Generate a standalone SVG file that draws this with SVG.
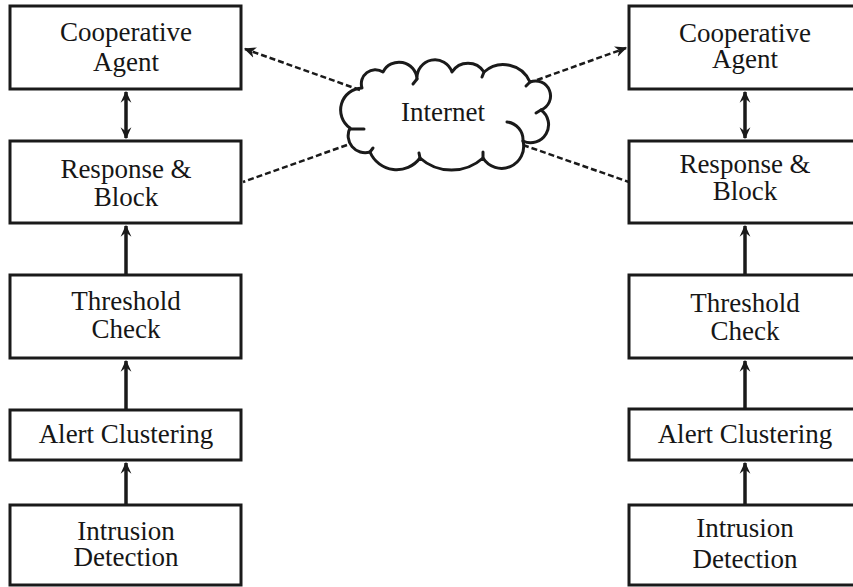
<svg xmlns="http://www.w3.org/2000/svg" width="853" height="587" viewBox="0 0 853 587">
  <style>
    .box { fill: #fff; stroke: #1a1a1a; stroke-width: 3; }
    .lbl { font-family: "Liberation Serif", "Times New Roman", serif; font-size: 27px; fill: #161616; text-anchor: middle; }
    .flow { stroke: #1a1a1a; stroke-width: 3.5; fill: none; }
    .net { stroke: #1a1a1a; stroke-width: 2.5; fill: none; stroke-dasharray: 6 3; }
    .cloud { fill: #fff; stroke: #1a1a1a; stroke-width: 3; stroke-linejoin: round; }
    .curl { fill: none; stroke: #1a1a1a; stroke-width: 3; stroke-linecap: round; }
  </style>
  <defs>
    <marker id="head" viewBox="0 0 10 10" refX="9" refY="5" markerWidth="12" markerHeight="12" markerUnits="userSpaceOnUse" orient="auto-start-reverse">
      <path d="M0,0.5 L10,5 L0,9.5 L3.5,5 z" fill="#1a1a1a"/>
    </marker>
    <marker id="open" viewBox="0 0 10 10" refX="9" refY="5" markerWidth="12" markerHeight="12" markerUnits="userSpaceOnUse" orient="auto">
      <path d="M0,0.5 L10,5 L0,9.5 L3,5 z" fill="#1a1a1a"/>
    </marker>
  </defs>

  <rect width="853" height="587" fill="#fff"/>

  <!-- left agent stack -->
  <g id="left-cooperative-agent">
    <rect class="box" x="10" y="6" width="231" height="83"/>
    <text class="lbl" x="126" y="41">Cooperative</text>
    <text class="lbl" x="126" y="71">Agent</text>
  </g>
  <g id="left-response-block">
    <rect class="box" x="10" y="141" width="231" height="82"/>
    <text class="lbl" x="126" y="178">Response &amp;</text>
    <text class="lbl" x="126" y="206">Block</text>
  </g>
  <g id="left-threshold-check">
    <rect class="box" x="10" y="275" width="231" height="83"/>
    <text class="lbl" x="126" y="310">Threshold</text>
    <text class="lbl" x="126" y="338">Check</text>
  </g>
  <g id="left-alert-clustering">
    <rect class="box" x="10" y="410" width="231" height="50"/>
    <text class="lbl" x="126" y="443">Alert Clustering</text>
  </g>
  <g id="left-intrusion-detection">
    <rect class="box" x="10" y="505" width="231" height="80"/>
    <text class="lbl" x="126" y="540">Intrusion</text>
    <text class="lbl" x="126" y="566">Detection</text>
  </g>

  <!-- right agent stack -->
  <g id="right-cooperative-agent">
    <rect class="box" x="629" y="6" width="231" height="83"/>
    <text class="lbl" x="745" y="42">Cooperative</text>
    <text class="lbl" x="745" y="68">Agent</text>
  </g>
  <g id="right-response-block">
    <rect class="box" x="629" y="141" width="231" height="82"/>
    <text class="lbl" x="745" y="173">Response &amp;</text>
    <text class="lbl" x="745" y="200">Block</text>
  </g>
  <g id="right-threshold-check">
    <rect class="box" x="629" y="275" width="231" height="83"/>
    <text class="lbl" x="745" y="312">Threshold</text>
    <text class="lbl" x="745" y="340">Check</text>
  </g>
  <g id="right-alert-clustering">
    <rect class="box" x="629" y="409" width="231" height="51"/>
    <text class="lbl" x="745" y="443">Alert Clustering</text>
  </g>
  <g id="right-intrusion-detection">
    <rect class="box" x="629" y="505" width="231" height="80"/>
    <text class="lbl" x="745" y="537">Intrusion</text>
    <text class="lbl" x="745" y="568">Detection</text>
  </g>

  <!-- internet cloud -->
  <g id="internet">
    <path class="cloud" d="M350,128
      A22,22 0 0 1 362,88
      A14,14 0 0 1 383,72
      A18,18 0 0 1 417,79
      A18,18 0 0 1 452,72
      A19,19 0 0 1 484,72
      A29,29 0 0 1 530,82
      A15,15 0 0 1 541,110
      A18,18 0 0 1 523,141
      A22,22 0 0 1 483,158
      A47,47 0 0 1 420,158
      A29,29 0 0 1 370,152
      A17,17 0 0 1 350,128 Z"/>
    <path class="curl" d="M350,129 L364,129"/>
    <path class="curl" d="M417,79 L413,84"/>
    <path class="curl" d="M484,72 L482,77"/>
    <path class="curl" d="M530,82 L526,86"/>
    <path class="curl" d="M541,110 L536,113"/>
    <path class="curl" d="M507,122 A18,18 0 0 1 523,141"/>
    <path class="curl" d="M483,158 L483,152"/>
    <path class="curl" d="M420,158 L419,153"/>
    <path class="curl" d="M370,152 L373,148"/>
    <text class="lbl" x="443" y="121">Internet</text>
  </g>

  <!-- connectors -->
  <g id="connectors">
    <line class="flow" x1="126" y1="92" x2="126" y2="138" marker-start="url(#head)" marker-end="url(#head)"/>
    <line class="flow" x1="126" y1="275" x2="126" y2="226" marker-end="url(#head)"/>
    <line class="flow" x1="126" y1="410" x2="126" y2="361" marker-end="url(#head)"/>
    <line class="flow" x1="126" y1="505" x2="126" y2="463" marker-end="url(#head)"/>

    <line class="flow" x1="745" y1="92" x2="745" y2="138" marker-start="url(#head)" marker-end="url(#head)"/>
    <line class="flow" x1="745" y1="275" x2="745" y2="226" marker-end="url(#head)"/>
    <line class="flow" x1="745" y1="409" x2="745" y2="361" marker-end="url(#head)"/>
    <line class="flow" x1="745" y1="505" x2="745" y2="463" marker-end="url(#head)"/>

    <line class="net" x1="360" y1="90" x2="245" y2="49" marker-end="url(#open)"/>
    <line class="net" x1="347" y1="145" x2="243" y2="182"/>
    <line class="net" x1="537" y1="80" x2="626" y2="48" marker-end="url(#open)"/>
    <line class="net" x1="523" y1="145" x2="629" y2="182"/>
  </g>
</svg>
